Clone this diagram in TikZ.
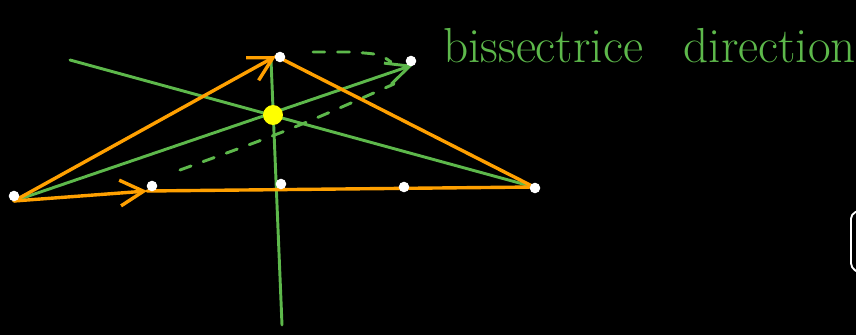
\documentclass[tikz,border=0pt]{standalone}
\usepackage{tikz}
\usetikzlibrary{arrows.meta,positioning,calc}
\definecolor{inkorange}{HTML}{FFA000}
\definecolor{inkgreen}{HTML}{5DB84B}
\definecolor{inkyellow}{HTML}{FFFF00}

\begin{document}
\begin{tikzpicture}[x=0.03cm, y=-0.03cm,
  orangeline/.style={draw=inkorange, line width=2.9pt, line cap=round},
  greenline/.style={draw=inkgreen, line width=2.5pt, line cap=round},
  greendash/.style={greenline, dash pattern=on 10pt off 11pt},
  orangetip/.style={-{Straight Barb[length=20pt,width=22pt,line width=2.9pt]}},
  greentip/.style={-{Straight Barb[length=20pt,width=19pt,line width=2.5pt]}},
  whitedot/.style={circle, fill=white, inner sep=0pt, minimum size=9pt}]
\useasboundingbox[fill=black] (0,0) rectangle (856,335);

\coordinate (A) at (14,201);
\coordinate (B) at (276,56);
\coordinate (C) at (534,187);
\coordinate (D) at (413,65);
\coordinate (M) at (147,191);
\coordinate (I) at (273,115);
\coordinate (Cfar) at (70,60);
\coordinate (Bfar) at (282,325);

\draw[greenline] (Cfar) -- (C);
\draw[greenline] (271,60) -- (Bfar);
\draw[greenline, greentip] (A) -- (D);
\draw[greendash] (313,52) -- (350,52) .. controls (380,54) .. (391,62);
\draw[greendash] (180,170) .. controls (290,130) .. (394,84);

\draw[orangeline, orangetip] (A) -- (B);
\draw[orangeline] (B) -- (C);
\draw[orangeline, orangetip] (A) -- (M);
\draw[orangeline] (M) -- (C);

\node[whitedot] (dotA) at (14,196) {};
\node[whitedot] (dotB) at (280,57) {};
\node[whitedot] (dotC) at (535,188) {};
\node[whitedot] (dotD) at (411,61) {};
\node[whitedot] (dotP) at (152,186) {};
\node[whitedot] (dotQ) at (281,184) {};
\node[whitedot] (dotR) at (404,187) {};
\node[circle, fill=inkyellow, inner sep=0pt, minimum size=17pt] (center) at (I) {};

\node[anchor=base west, text=inkgreen, inner sep=0pt, font=\fontsize{42}{50}\selectfont] (label) at (443,62) {bissectrice\hspace{22pt} direction};

\draw[white, line width=1.6pt, rounded corners=4pt] (858,211) -- (851,214) -- (851,268) -- (858,272);
\end{tikzpicture}
\end{document}
